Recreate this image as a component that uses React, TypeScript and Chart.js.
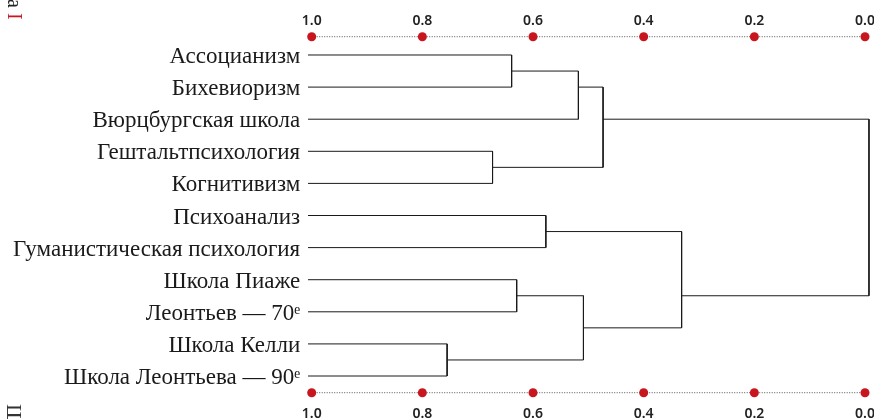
import React, { useEffect, useRef } from 'react';
import { Chart, registerables } from 'chart.js';

Chart.register(...registerables);

const leafLabels = [
  'Ассоцианизм',
  'Бихевиоризм',
  'Вюрцбургская школа',
  'Гештальтпсихология',
  'Когнитивизм',
  'Психоанализ',
  'Гуманистическая психология',
  'Школа Пиаже',
  'Леонтьев — 70ᵉ',
  'Школа Келли',
  'Школа Леонтьева — 90ᵉ',
];

// merge k creates node id leafLabels.length + k
const mergeA = [0, 3, 9, 7, 5, 11, 14, 16, 15, 18];
const mergeB = [1, 4, 10, 8, 6, 2, 13, 12, 17, 19];
const mergeLevel = [0.637, 0.671, 0.752, 0.628, 0.576, 0.518, 0.509, 0.474, 0.334, 0.0];

const axisTicks = [1.0, 0.8, 0.6, 0.4, 0.2, 0.0];

const Y_MIN = -0.57;
const Y_MAX = 10.52;
const RED = '#c8161e';

export default function App() {
  const ref = useRef<HTMLCanvasElement>(null);

  useEffect(() => {
    document.body.style.margin = '0';
    const canvas = ref.current;
    if (!canvas) return;

    const nodeLeaves: number[][] = leafLabels.map((_, i) => [i]);
    const nodeLevel: number[] = leafLabels.map(() => 1);
    mergeA.forEach((a, k) => {
      const b = mergeB[k];
      nodeLeaves.push([...nodeLeaves[a], ...nodeLeaves[b]]);
      nodeLevel.push(mergeLevel[k]);
    });
    const nodeY = nodeLeaves.map((ls) => ls.reduce((s, v) => s + v, 0) / ls.length);

    const linkSets: any[] = mergeA.map((a, k) => {
      const b = mergeB[k];
      const lv = mergeLevel[k];
      return {
        xAxisID: 'xt',
        yAxisID: 'y',
        showLine: true,
        data: [
          { x: nodeLevel[a], y: nodeY[a] },
          { x: lv, y: nodeY[a] },
          { x: lv, y: nodeY[b] },
          { x: nodeLevel[b], y: nodeY[b] },
        ],
        borderColor: '#1a1a1a',
        borderWidth: 1,
        pointRadius: 0,
        clip: false,
        order: 5,
      };
    });

    const dotRow = (yv: number) => ({
      xAxisID: 'xTop',
      yAxisID: 'y',
      showLine: false,
      data: axisTicks.map((t) => ({ x: t, y: yv })),
      pointRadius: 4.5,
      pointBackgroundColor: RED,
      pointBorderWidth: 0,
      clip: false,
      order: 0,
    });
    const dottedRow = (yv: number) => ({
      xAxisID: 'xTop',
      yAxisID: 'y',
      showLine: true,
      data: [
        { x: axisTicks[0], y: yv },
        { x: axisTicks[axisTicks.length - 1], y: yv },
      ],
      borderColor: '#555',
      borderWidth: 1,
      borderDash: [1, 1.5],
      pointRadius: 0,
      clip: false,
      order: 2,
    });

    const xAxisCommon = (position: 'top' | 'bottom', pad: number, h: number) => ({
      type: 'linear',
      position,
      reverse: true,
      min: 0,
      max: 1,
      afterBuildTicks: (scale: any) => {
        scale.ticks = axisTicks.map((v) => ({ value: v }));
      },
      afterFit: (scale: any) => {
        scale.height = h;
        scale.paddingLeft = 0;
        scale.paddingRight = 0;
      },
      grid: { display: false, drawTicks: false },
      border: { display: false },
      ticks: {
        padding: pad,
        color: '#222',
        font: { family: 'Noto Sans', size: 14, weight: '600' },
        callback: (v: any) => Number(v).toFixed(1),
        autoSkip: false,
        maxRotation: 0,
      },
    });

    const chart = new Chart(canvas, {
      type: 'scatter',
      data: {
        datasets: [
          dotRow(Y_MIN),
          dotRow(Y_MAX),
          dottedRow(Y_MIN),
          dottedRow(Y_MAX),
          ...linkSets,
        ],
      },
      options: {
        animation: false,
        responsive: true,
        maintainAspectRatio: false,
        events: [],
        layout: { padding: { left: 0, right: 9, top: 0, bottom: 0 } },
        plugins: { legend: { display: false }, tooltip: { enabled: false } },
        scales: {
          xTop: xAxisCommon('top', 7, 36.7) as any,
          xBot: xAxisCommon('bottom', 13, 26.3) as any,
          xt: {
            type: 'linear',
            display: false,
            reverse: true,
            min: 0.0071,
            max: 0.9934,
          },
          y: {
            type: 'linear',
            position: 'left',
            reverse: true,
            min: Y_MIN,
            max: Y_MAX,
            afterBuildTicks: (scale: any) => {
              scale.ticks = leafLabels.map((_, i) => ({ value: i }));
            },
            afterFit: (scale: any) => {
              scale.width = 311.7;
              scale.paddingTop = 0;
              scale.paddingBottom = 0;
            },
            grid: { display: false, drawTicks: false },
            border: { display: false },
            ticks: {
              padding: 11.5,
              labelOffset: 2,
              color: '#1a1a1a',
              font: { family: 'Liberation Serif', size: 23 },
              autoSkip: false,
              callback: (v: any) => leafLabels[Math.round(Number(v))] ?? '',
            },
          },
        },
      } as any,
    });
    return () => chart.destroy();
  }, []);

  return (
    <div style={{ position: 'fixed', left: 0, top: 0, width: 874, height: 419, background: '#fff', overflow: 'hidden' }}>
      <canvas ref={ref} />
      <div
        style={{
          position: 'absolute',
          left: 5,
          top: -1,
          writingMode: 'vertical-rl',
          fontFamily: 'Liberation Serif',
          fontSize: 20,
          lineHeight: '20px',
          color: '#222',
        }}
      >
        а <span style={{ color: RED }}>I</span>
      </div>
      <div
        style={{
          position: 'absolute',
          left: 3,
          top: 404,
          writingMode: 'vertical-rl',
          fontFamily: 'Liberation Serif',
          fontSize: 22,
          lineHeight: '22px',
          color: '#333',
        }}
      >
        Ш
      </div>
    </div>
  );
}
